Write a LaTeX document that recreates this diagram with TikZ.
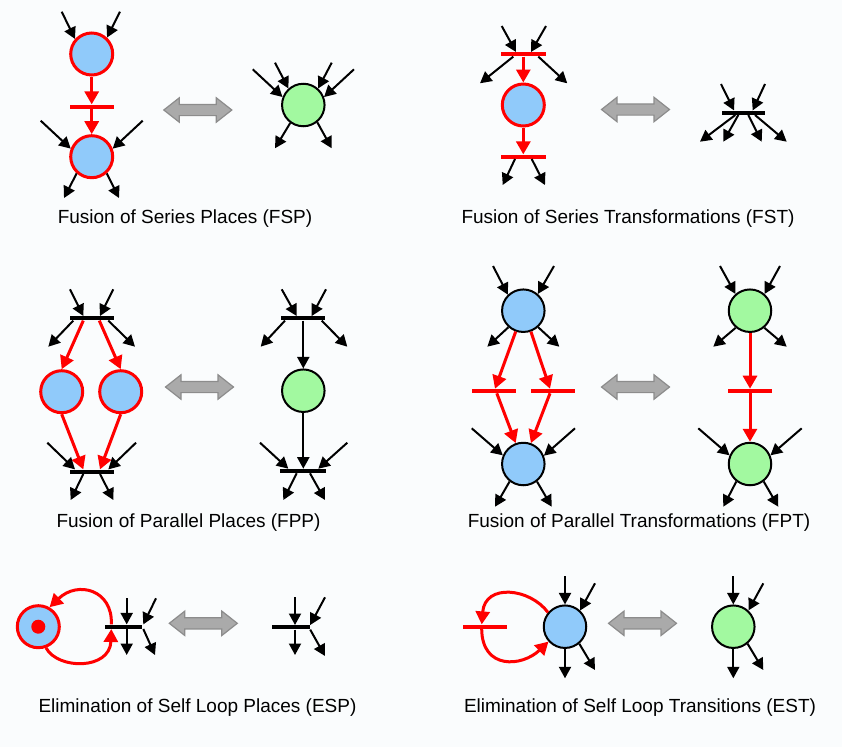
\documentclass[tikz,border=0pt]{standalone}
\usepackage{fontspec}
\setmainfont{Liberation Sans}
\usetikzlibrary{arrows.meta}
\definecolor{pblue}{RGB}{144,202,250}
\definecolor{pgreen}{RGB}{162,249,160}
\definecolor{pred}{RGB}{255,0,0}
\definecolor{bgc}{RGB}{250,252,253}
\definecolor{dfill}{RGB}{170,170,170}
\definecolor{dline}{RGB}{140,140,140}
\begin{document}
\begin{tikzpicture}[x=1pt,y=-1pt,
  place/.style={circle, draw=black, line width=2pt, minimum size=42.5pt, inner sep=0pt},
  placer/.style={circle, draw=pred, line width=3pt, minimum size=42pt, inner sep=0pt},
  bar/.style={rectangle, fill=black, minimum width=44pt, minimum height=4.2pt, inner sep=0pt},
  rbar/.style={bar, fill=pred},
  arr/.style={draw=black, line width=2pt, -{Triangle[length=11.5pt,width=12pt]}},
  rarr/.style={draw=pred, line width=3pt, -{Triangle[length=13pt,width=14pt]}},
  lbl/.style={font=\fontsize{19}{23}\selectfont, inner sep=0pt},
  dbl/.pic={\draw[dline, fill=dfill, line width=1.2pt, line join=miter]
     (-34,0) -- (-18.5,-12.2) -- (-18.5,-5.6) -- (18.5,-5.6) -- (18.5,-12.2) -- (34,0)
     -- (18.5,12.2) -- (18.5,5.6) -- (-18.5,5.6) -- (-18.5,12.2) -- cycle;}
]
\fill[bgc] (0,0) rectangle (842,747);
\useasboundingbox (0,0) rectangle (842,747);

% ---------------- FSP ----------------
\node[placer, fill=pblue] (fsp1) at (91.7,54) {};
\node[rbar] (fspt) at (91.7,106.7) {};
\node[placer, fill=pblue] (fsp2) at (91.7,156.7) {};
\path (61.7,11.7) coordinate (fspi1) (120,11.7) coordinate (fspi2)
      (40.7,120.7) coordinate (fspi3) (142.7,120.7) coordinate (fspi4)
      (64,198) coordinate (fspo1) (119,198) coordinate (fspo2);
\draw[arr] (fspi1) -- (fsp1.138);
\draw[arr] (fspi2) -- (fsp1.47);
\draw[rarr] (fsp1) -- (fspt);
\draw[rarr] (fspt) -- (fsp2);
\draw[arr] (fspi3) -- (fsp2.159);
\draw[arr] (fspi4) -- (fsp2.21);
\draw[arr] (fsp2.228) -- (fspo1);
\draw[arr] (fsp2.312) -- (fspo2);

\node[place, fill=pgreen] (fsq) at (303.3,105) {};
\path (252.7,69.3) coordinate (q1) (275,62.7) coordinate (q2) (331.7,62.7) coordinate (q3)
      (354,69.3) coordinate (q4) (275,148.3) coordinate (q5) (331.7,148.3) coordinate (q6);
\draw[arr] (q1) -- (fsq.159);
\draw[arr] (q2) -- (fsq.132);
\draw[arr] (q3) -- (fsq.48);
\draw[arr] (q4) -- (fsq.21);
\draw[arr] (fsq.234) -- (q5);
\draw[arr] (fsq.309) -- (q6);

\pic at (197.8,110) {dbl};
\node[lbl] (l1) at (185,219) {Fusion of Series Places (FSP)};

% ---------------- FST ----------------
\node[rbar, minimum width=45pt] (fsta) at (523.3,54.3) {};
\node[placer, fill=pblue] (fstp) at (523.3,105) {};
\node[rbar, minimum width=45pt] (fstb) at (523.3,156.7) {};
\path (501.7,26) coordinate (t1) (546,26) coordinate (t2) (480,83.3) coordinate (t3)
      (567.3,83.3) coordinate (t4) (502.7,185) coordinate (t5) (545,185) coordinate (t6);
\draw[arr] (t1) -- ([xshift=-7.3pt]fsta.north);
\draw[arr] (t2) -- ([xshift=7.7pt]fsta.north);
\draw[arr] ([xshift=-10pt]fsta.south) -- (t3);
\draw[arr] ([xshift=15pt]fsta.south) -- (t4);
\draw[rarr] (fsta) -- (fstp);
\draw[rarr] (fstp) -- (fstb);
\draw[arr] ([xshift=-8.3pt]fstb.south) -- (t5);
\draw[arr] ([xshift=8.4pt]fstb.south) -- (t6);

\node[bar, minimum width=43.3pt] (fstc) at (743.3,112.7) {};
\path (721,84) coordinate (u1) (765,84) coordinate (u2) (700,141.7) coordinate (u3)
      (723.3,141.7) coordinate (u4) (761.7,141.7) coordinate (u5) (786.7,141.7) coordinate (u6);
\draw[arr] (u1) -- ([xshift=-9.3pt]fstc.north);
\draw[arr] (u2) -- ([xshift=9.4pt]fstc.north);
\draw[arr] ([xshift=-8pt]fstc.south) -- (u3);
\draw[arr] ([xshift=-5pt]fstc.south) -- (u4);
\draw[arr] ([xshift=5pt]fstc.south) -- (u5);
\draw[arr] ([xshift=11.7pt]fstc.south) -- (u6);

\pic at (635.5,109.5) {dbl};
\node[lbl] (l2) at (628,219) {Fusion of Series Transformations (FST)};

% ---------------- FPP ----------------
\node[bar] (fppa) at (91.7,318.3) {};
\node[placer, fill=pblue] (fpp1) at (61.7,391.7) {};
\node[placer, fill=pblue] (fpp2) at (120.7,391.7) {};
\node[bar] (fppb) at (91.7,471.7) {};
\path (70,289.3) coordinate (v1) (113.3,289.3) coordinate (v2) (48.3,346.7) coordinate (v3)
      (135,346.7) coordinate (v4) (47.3,442.7) coordinate (v5) (136,442.7) coordinate (v6)
      (70.7,500) coordinate (v7) (113.3,500) coordinate (v8);
\draw[arr] (v1) -- ([xshift=-8.4pt]fppa.north);
\draw[arr] (v2) -- ([xshift=8.3pt]fppa.north);
\draw[arr] ([xshift=-18.4pt]fppa.south) -- (v3);
\draw[arr] ([xshift=16.6pt]fppa.south) -- (v4);
\draw[rarr] ([xshift=-8.4pt]fppa.south) -- (fpp1.north);
\draw[rarr] ([xshift=7.6pt]fppa.south) -- (fpp2.north);
\draw[rarr] (fpp1.south) -- ([xshift=-8.4pt]fppb.north);
\draw[rarr] (fpp2.south) -- ([xshift=8.3pt]fppb.north);
\draw[arr] (v5) -- ([xshift=-16.7pt]fppb.north);
\draw[arr] (v6) -- ([xshift=16.6pt]fppb.north);
\draw[arr] ([xshift=-8.4pt]fppb.south) -- (v7);
\draw[arr] ([xshift=8.3pt]fppb.south) -- (v8);

\node[bar] (fppc) at (303.3,318.3) {};
\node[place, fill=pgreen] (fpp3) at (303.3,390.7) {};
\node[bar, minimum width=46pt] (fppd) at (303.3,471) {};
\path (281.7,289.3) coordinate (w1) (326,289.3) coordinate (w2) (260.7,346.7) coordinate (w3)
      (347.3,346.7) coordinate (w4) (260,442.7) coordinate (w5) (347.3,442.7) coordinate (w6)
      (283.3,500) coordinate (w7) (325,500) coordinate (w8);
\draw[arr] (w1) -- ([xshift=-6.6pt]fppc.north);
\draw[arr] (w2) -- ([xshift=8.4pt]fppc.north);
\draw[arr] ([xshift=-18.3pt]fppc.south) -- (w3);
\draw[arr] ([xshift=18.4pt]fppc.south) -- (w4);
\draw[arr] (fppc) -- (fpp3);
\draw[arr] (fpp3) -- (fppd);
\draw[arr] (w5) -- ([xshift=-15pt]fppd.north);
\draw[arr] (w6) -- ([xshift=15pt]fppd.north);
\draw[arr] ([xshift=-6.6pt]fppd.south) -- (w7);
\draw[arr] ([xshift=6.7pt]fppd.south) -- (w8);

\pic at (199.5,387) {dbl};
\node[lbl] (l3) at (188.5,523) {Fusion of Parallel Places (FPP)};

% ---------------- FPT ----------------
\node[place, fill=pblue] (fpt1) at (523.3,310.7) {};
\node[rbar] (fptb1) at (493.8,391) {};
\node[rbar] (fptb2) at (552.5,391) {};
\node[place, fill=pblue] (fpt2) at (523.3,464) {};
\path (493,266) coordinate (x1) (554,266) coordinate (x2) (487.3,346.7) coordinate (x3)
      (559.3,346.7) coordinate (x4) (471.7,428.3) coordinate (x5) (575,428.3) coordinate (x6)
      (495,506.7) coordinate (x7) (551.7,506.7) coordinate (x8);
\draw[arr] (x1) -- (fpt1.134);
\draw[arr] (x2) -- (fpt1.49);
\draw[arr] (fpt1.228) -- (x3);
\draw[arr] (fpt1.312) -- (x4);
\draw[rarr] (fpt1.250) -- ([xshift=1.2pt]fptb1.north);
\draw[rarr] (fpt1.290) -- ([xshift=-2.5pt]fptb2.north);
\draw[rarr] ([xshift=3pt]fptb1.south) -- (fpt2.110);
\draw[rarr] ([xshift=-2.5pt]fptb2.south) -- (fpt2.70);
\draw[arr] (x5) -- (fpt2.157);
\draw[arr] (x6) -- (fpt2.22);
\draw[arr] (fpt2.232) -- (x7);
\draw[arr] (fpt2.308) -- (x8);

\node[place, fill=pgreen] (fpt3) at (750,310.7) {};
\node[rbar] (fptb3) at (750,391) {};
\node[place, fill=pgreen] (fpt4) at (750,464) {};
\path (720,266) coordinate (y1) (780,266) coordinate (y2) (713.3,346.7) coordinate (y3)
      (786.7,346.7) coordinate (y4) (698.3,428.3) coordinate (y5) (801.7,428.3) coordinate (y6)
      (723.3,506.7) coordinate (y7) (778.3,506.7) coordinate (y8);
\draw[arr] (y1) -- (fpt3.131);
\draw[arr] (y2) -- (fpt3.49);
\draw[arr] (fpt3.230) -- (y3);
\draw[arr] (fpt3.310) -- (y4);
\draw[rarr] (fpt3) -- (fptb3);
\draw[rarr] (fptb3) -- (fpt4);
\draw[arr] (y5) -- (fpt4.157);
\draw[arr] (y6) -- (fpt4.23);
\draw[arr] (fpt4.232) -- (y7);
\draw[arr] (fpt4.308) -- (y8);

\pic at (635.5,387) {dbl};
\node[lbl] (l4) at (639,523) {Fusion of Parallel Transformations (FPT)};

% ---------------- ESP ----------------
\node[placer, fill=pblue] (espp) at (38.3,626.7) {};
\node[circle, fill=pred, minimum size=14pt, inner sep=0pt] (espt) at (38.3,626.7) {};
\node[bar, minimum width=36.7pt] (espb) at (123.3,626.7) {};
\path (126.7,598.3) coordinate (e1) (156,598.3) coordinate (e2)
      (126.7,655) coordinate (e3) (155,655) coordinate (e4);
\draw[arr] (e1) -- ([xshift=3.4pt]espb.north);
\draw[arr] (e2) -- ([xshift=20pt]espb.north);
\draw[arr] ([xshift=3.4pt]espb.south) -- (e3);
\draw[arr] ([xshift=20pt]espb.south) -- (e4);
\draw[rarr] ([xshift=-12pt]espb.north) .. controls (113,590) and (78,580) .. (espp.60);
\draw[rarr] (espp.290) .. controls (58,670) and (110,670) .. ([xshift=-12pt]espb.south);

\node[bar, minimum width=37.7pt] (espc) at (291.2,627.3) {};
\path (295,597.3) coordinate (e5) (325,597.3) coordinate (e6)
      (295,655) coordinate (e7) (325,656) coordinate (e8);
\draw[arr] (e5) -- ([xshift=3.8pt]espc.north);
\draw[arr] (e6) -- ([xshift=19pt]espc.north);
\draw[arr] ([xshift=3.8pt]espc.south) -- (e7);
\draw[arr] ([xshift=19pt]espc.south) -- (e8);

\pic at (203.3,623.3) {dbl};
\node[lbl] (l5) at (197.5,708) {Elimination of Self Loop Places (ESP)};

% ---------------- EST ----------------
\node[place, fill=pblue] (estp) at (565,626.7) {};
\node[rbar] (estb) at (485.3,626.7) {};
\path (565,576) coordinate (f1) (595,583.3) coordinate (f2)
      (565,678.3) coordinate (f3) (595,670) coordinate (f4);
\draw[arr] (f1) -- (estp.north);
\draw[arr] (f2) -- (estp.47);
\draw[arr] (estp.south) -- (f3);
\draw[arr] (estp.310) -- (f4);
\draw[rarr] (estp.140) .. controls (530,588) and (485,583) .. ([xshift=-3.6pt]estb.north);
\draw[rarr] ([xshift=-3.6pt]estb.south) .. controls (482,670) and (522,667) .. (estp.222);

\node[place, fill=pgreen] (estq) at (733.3,626.7) {};
\path (733.3,576) coordinate (g1) (763.3,583.3) coordinate (g2)
      (733.3,678.3) coordinate (g3) (763.3,670) coordinate (g4);
\draw[arr] (g1) -- (estq.north);
\draw[arr] (g2) -- (estq.47);
\draw[arr] (estq.south) -- (g3);
\draw[arr] (estq.310) -- (g4);

\pic at (642.5,623.3) {dbl};
\node[lbl] (l6) at (640,708) {Elimination of Self Loop Transitions (EST)};
\end{tikzpicture}
\end{document}
